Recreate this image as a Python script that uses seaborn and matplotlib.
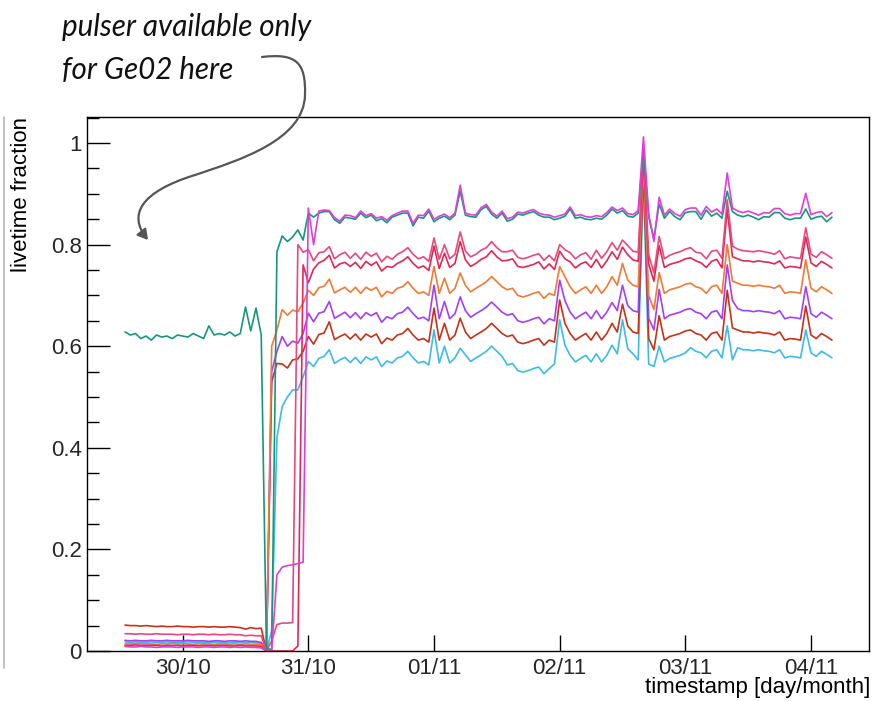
import numpy as np
import pandas as pd
import matplotlib
matplotlib.use("Agg")
import matplotlib.pyplot as plt
import seaborn as sns
from matplotlib.path import Path
from matplotlib.patches import FancyArrowPatch
from matplotlib.ticker import MultipleLocator, FuncFormatter, NullLocator

# ---------------- data (livetime fraction, values in thousandths) ----------------
# hourly samples, hour 0 = 30/10 00:00
hours = np.arange(-11, 125)
day_ticks = [0, 1, 2, 3, 4, 5]
day_labels = ["30/10", "31/10", "01/11", "02/11", "03/11", "04/11"]

teal = [628,622,625,615,620,612,622,618,620,615,622,620,618,625,620,615,640,622,625,622,628,620,625,677,630,675,
        622,5,3,786,817,806,815,829,809,862,
        854,862,865,865,849,842,854,852,850,862,
        853,858,847,851,843,854,858,862,862,837,
        854,852,866,845,852,856,849,858,905,858,
        855,854,869,875,860,852,862,846,850,860,
        858,862,865,858,854,854,849,852,856,870,
        852,854,850,849,852,850,858,870,862,867,
        856,854,862,990,855,812,880,852,865,855,
        849,863,865,865,850,868,856,862,852,905,
        865,858,855,858,854,849,855,854,863,863,
        852,849,852,852,870,850,854,856,845,854]

magenta = [9,8,8,9,8,8,7,8,8,8,7,8,8,8,7,8,8,7,8,8,7,8,7,8,7,7,
           6,0,0,150,165,168,170,172,175,872,
           800,866,868,867,853,846,858,857,853,866,
           857,861,852,855,848,857,862,866,866,842,
           858,857,870,850,856,860,853,862,917,862,
           859,858,873,879,864,856,866,851,854,864,
           862,866,869,862,859,858,854,857,860,874,
           857,859,855,854,857,855,863,874,867,872,
           861,859,867,1012,860,806,893,858,870,861,
           856,869,872,872,858,875,864,870,860,941,
           872,866,863,866,862,858,863,862,871,871,
           861,858,861,861,901,859,863,865,855,863]

orange = [14,14,15,14,14,14,13,14,14,15,14,14,14,13,14,14,14,13,14,14,13,14,13,14,13,13,
          12,0,600,632,672,661,671,668,685,710,
          700,715,718,732,705,711,716,706,716,704,
          716,710,716,697,708,704,714,717,727,714,
          704,707,700,757,704,734,704,714,744,720,
          707,714,720,727,737,727,717,711,714,700,
          697,700,704,707,694,704,700,757,737,717,
          704,711,717,704,720,704,717,737,720,763,
          730,720,717,960,700,672,745,704,711,714,
          717,722,724,717,714,704,717,720,704,800,
          728,724,720,720,718,720,718,717,714,720,
          704,707,706,704,770,714,707,717,711,704]

pink_a = [34,34,33,34,33,33,34,33,33,33,32,33,33,32,33,33,32,33,32,32,33,32,32,30,31,30,
          30,0,20,52,55,55,56,800,785,790,
          768,784,786,796,772,780,785,773,783,771,
          785,777,783,766,777,771,781,786,794,781,
          772,776,767,813,771,800,772,781,825,787,
          776,781,789,794,806,794,786,786,789,775,
          772,775,779,782,769,779,768,800,790,784,
          772,780,784,771,789,773,786,804,789,809,
          798,787,785,990,780,744,816,772,779,783,
          786,791,794,785,783,772,787,789,773,888,
          797,791,788,787,786,788,786,784,781,788,
          772,776,774,773,833,781,775,786,780,773]

pink_b = [11,11,12,11,11,11,11,10,11,11,11,10,11,11,10,11,11,10,11,11,10,10,11,10,10,10,
          9,0,0,0,0,0,0,10,760,725,
          752,764,769,779,754,762,765,757,765,753,
          767,759,766,748,757,755,763,768,776,763,
          754,758,749,797,753,783,755,763,806,770,
          757,763,771,776,788,776,768,769,772,757,
          755,758,761,766,752,762,751,787,772,766,
          754,762,766,755,771,754,768,786,771,795,
          780,770,767,975,762,728,798,755,761,764,
          767,772,774,768,764,755,767,771,754,870,
          776,772,768,768,766,768,766,765,762,768,
          754,757,756,754,815,764,757,767,761,754]

purple = [21,20,21,20,20,21,20,20,21,20,20,20,21,20,20,20,19,20,20,19,20,20,19,20,19,19,
          17,0,550,590,619,600,610,606,625,665,
          648,665,668,688,655,661,667,656,666,654,
          666,660,666,647,658,654,664,667,677,664,
          654,657,650,720,654,688,654,664,697,670,
          657,664,670,677,687,677,667,661,664,650,
          647,650,654,657,644,654,650,730,690,667,
          654,661,667,654,670,654,667,686,670,720,
          680,670,667,985,655,632,712,654,661,664,
          667,672,674,667,664,654,667,670,654,760,
          690,674,670,670,668,670,668,667,664,670,
          654,657,656,654,717,664,657,667,661,654]

dark_red = [51,50,50,49,50,49,48,49,48,48,49,48,48,47,48,48,47,48,47,47,48,47,46,43,46,44,
            45,0,530,566,565,557,573,575,590,619,
            604,623,626,648,613,619,624,614,624,612,
            624,618,624,605,616,612,622,625,635,622,
            612,615,608,675,612,645,612,622,655,628,
            615,622,628,635,645,635,625,619,622,608,
            605,608,612,615,602,612,608,691,645,625,
            612,619,625,612,628,612,625,645,628,683,
            640,628,625,950,615,593,660,612,619,622,
            625,630,632,625,622,612,625,628,612,710,
            636,632,628,628,626,628,626,625,622,628,
            612,615,614,612,679,622,615,625,619,612]

cyan = [18,17,18,17,17,18,17,17,18,17,17,17,18,17,17,17,17,17,17,17,16,17,17,16,17,16,
        15,0,40,420,481,500,514,514,540,570,
        560,576,580,593,566,573,578,568,578,566,
        579,573,579,560,571,567,577,580,590,577,
        567,570,563,632,567,600,567,577,596,583,
        570,577,583,590,600,590,580,563,566,552,
        549,552,556,559,546,556,565,652,602,582,
        569,576,582,569,585,569,582,602,585,652,
        595,585,573,930,565,560,600,569,576,579,
        582,587,597,590,587,577,590,593,577,640,
        573,597,593,593,591,593,591,590,587,593,
        577,580,579,577,632,587,580,590,584,577]

series = {
    "cyan": cyan, "dark_red": dark_red, "purple": purple, "orange": orange,
    "pink_b": pink_b, "pink_a": pink_a, "teal": teal, "magenta": magenta,
}
colors = {
    "cyan": "#3dbbe6", "dark_red": "#c4321a", "purple": "#a53ff0", "orange": "#ee7b36",
    "pink_b": "#dd2a55", "pink_a": "#e6497c", "teal": "#16977c", "magenta": "#de3fd9",
}
order = list(series.keys())

rows = []
for name in order:
    vals = np.asarray(series[name], dtype=float) / 1000.0
    rows.append(pd.DataFrame({"day": hours / 24.0, "livetime": vals, "series": name}))
df = pd.concat(rows, ignore_index=True)

# ---------------- figure ----------------
sns.set_style("white")
plt.rcParams["font.family"] = ["Liberation Sans", "DejaVu Sans"]

W, H = 874, 701
fig = plt.figure(figsize=(W / 100, H / 100), dpi=100)
L, R, T, B = 87.3, 869.3, 117.3, 651.0
ax = fig.add_axes([L / W, 1 - B / H, (R - L) / W, (B - T) / H])

sns.lineplot(data=df, x="day", y="livetime", hue="series", hue_order=order,
             palette=colors, estimator=None, sort=False, legend=False,
             linewidth=1.2, ax=ax)

ax.set_xlim(-0.759, 5.464)
ax.set_ylim(0, 1.0506)
ax.set_xlabel("")
ax.set_ylabel("")
ax.set_xticks(day_ticks)
ax.set_xticklabels(day_labels)
ax.xaxis.set_minor_locator(NullLocator())
ax.yaxis.set_major_locator(MultipleLocator(0.2))
ax.yaxis.set_minor_locator(MultipleLocator(0.05))
ax.yaxis.set_major_formatter(FuncFormatter(lambda v, p: f"{v:g}"))

ax.tick_params(axis="y", which="major", direction="in", length=16.5, width=1.0,
               labelsize=16, pad=4, left=True, right=False, color="black")
ax.tick_params(axis="y", which="minor", direction="in", length=8.5, width=1.0,
               left=True, right=False, color="black")
ax.tick_params(axis="x", which="major", direction="in", length=11.5, width=1.0,
               labelsize=16, pad=5, bottom=True, top=False, color="black")
for s in ax.spines.values():
    s.set_color("black")
    s.set_linewidth(1.0)
ax.grid(False)

# axis titles (ROOT style, aligned to the ends)
fig.text(22 / W, 1 - 117 / H, "livetime fraction", rotation=90, ha="center", va="top",
         fontsize=16, color="black")
fig.text(870 / W, 1 - 688 / H, "timestamp [day/month]", ha="right", va="center",
         fontsize=16, color="black")

# hand-written style annotation
fig.text(62 / W, 1 - 27 / H, "pulser available only", ha="left", va="center",
         fontsize=21.3, fontstyle="italic", family=["Lato", "DejaVu Sans"], color="#111111")
fig.text(62 / W, 1 - 70 / H, "for Ge02 here", ha="left", va="center",
         fontsize=21.3, fontstyle="italic", family=["Lato", "DejaVu Sans"], color="#111111")

def fp(x, y):
    return (x / W, 1 - y / H)

verts = [fp(262, 57), fp(296, 53), fp(306, 62), fp(305, 95),
         fp(304, 140), fp(240, 160), fp(195, 175),
         fp(140, 192), fp(128, 215), fp(148, 240)]
codes = [Path.MOVETO, Path.CURVE4, Path.CURVE4, Path.CURVE4,
         Path.CURVE4, Path.CURVE4, Path.CURVE4,
         Path.CURVE4, Path.CURVE4, Path.CURVE4]
arrow = FancyArrowPatch(path=Path(verts, codes), arrowstyle="-|>,head_length=6,head_width=3.5",
                        color="#555555", linewidth=1.6, transform=fig.transFigure)
fig.patches.append(arrow)

# faint border remnant at the far left
fig.add_artist(plt.Line2D([4 / W, 4 / W], [1 - 117 / H, 1 - 668 / H], color="#b5b5b5",
                          linewidth=1.2, transform=fig.transFigure))

fig.savefig("out.png", dpi=100)
